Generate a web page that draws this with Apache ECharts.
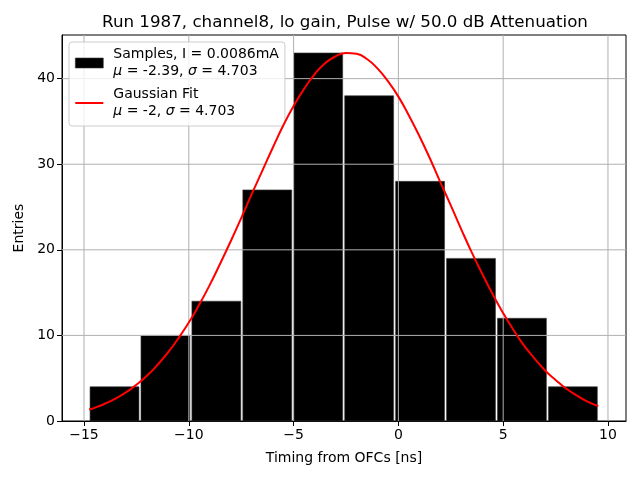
<!DOCTYPE html>
<html>
<head>
<meta charset="utf-8">
<script src="https://cdn.jsdelivr.net/npm/echarts@6/dist/echarts.min.js"></script>
<style>
  html, body { margin: 0; padding: 0; background: #fff; }
  #main { width: 640px; height: 480px; }
</style>
</head>
<body>
<div id="main"></div>
<script>
// histogram bins
var binEdges = [-14.76, -12.33, -9.90, -7.47, -5.04, -2.61, -0.18, 2.25, 4.68, 7.11, 9.54];
var counts = [4, 10, 14, 27, 43, 38, 28, 19, 12, 4];

// red fit curve
var fitX = [-14.76, -14.5, -14, -13.5, -13, -12.5, -12, -11.5, -11, -10.5, -10, -9.5, -9, -8.5, -8, -7.5, -7, -6.5, -6, -5.5, -5, -4.5, -4, -3.5, -3, -2.5, -2, -1.5, -1, -0.5, 0, 0.5, 1, 1.5, 2, 2.5, 3, 3.5, 4, 4.5, 5, 5.5, 6, 6.5, 7, 7.5, 8, 8.5, 9, 9.54];
var fitY = [1.34, 1.54, 2.02, 2.61, 3.34, 4.23, 5.28, 6.54, 7.98, 9.65, 11.5, 13.6, 15.9, 18.4, 21.0, 23.7, 26.5, 29.2, 31.9, 34.5, 36.8, 38.8, 40.5, 41.8, 42.6, 43.0, 42.9, 42.3, 41.2, 39.7, 37.9, 35.7, 33.3, 30.7, 27.9, 25.2, 22.4, 19.7, 17.2, 14.8, 12.6, 10.6, 8.8, 7.3, 5.9, 4.8, 3.8, 3.0, 2.3, 1.74];

var xTicks = [-15, -10, -5, 0, 5, 10];
var yTicks = [0, 10, 20, 30, 40];

var histData = [];
for (var i = 0; i < counts.length; i++) {
    histData.push([binEdges[i], binEdges[i + 1], counts[i]]);
}
var fitData = fitX.map(function (x, i) { return [x, fitY[i]]; });

// grid lines drawn over the bars, as matplotlib does here
var gridData = xTicks.map(function (v) { return [v, 0, 0]; })
    .concat(yTicks.slice(1).map(function (v) { return [0, v, 1]; }));

function minus(v) {
    return String(v).replace('-', '\u2212');
}

var font = 'DejaVu Sans';
var myChart = echarts.init(document.getElementById('main'));

option = {
    animation: false,
    backgroundColor: '#fff',
    title: {
        text: 'Run 1987, channel8, lo gain, Pulse w/ 50.0 dB Attenuation',
        left: 340,
        textAlign: 'center',
        top: 9,
        textStyle: {
            fontFamily: font,
            fontSize: 16.7,
            fontWeight: 'normal',
            color: '#000'
        }
    },
    legend: {
        orient: 'vertical',
        left: 69,
        top: 42,
        padding: [4, 6, 6, 6],
        itemGap: 6,
        itemWidth: 28,
        itemHeight: 10,
        backgroundColor: 'rgba(255,255,255,0.8)',
        borderColor: '#cccccc',
        borderWidth: 1,
        borderRadius: 3,
        data: [
            { name: 'Samples', icon: 'rect', itemStyle: { color: '#000', borderColor: '#3a3a3a', borderWidth: 0.6 } },
            { name: 'Gaussian Fit', icon: 'path://M0,4 L28,4 L28,6 L0,6 Z', itemStyle: { color: '#ff0000' } }
        ],
        formatter: function (name) {
            if (name === 'Samples') {
                return 'Samples, I = 0.0086mA\n{i|\u03bc} = -2.39, {i|\u03c3} = 4.703';
            }
            return 'Gaussian Fit\n{i|\u03bc} = -2, {i|\u03c3} = 4.703';
        },
        textStyle: {
            fontFamily: font,
            fontSize: 14,
            color: '#000',
            lineHeight: 17,
            padding: [0, 0, 0, 5],
            rich: {
                i: { fontFamily: font, fontSize: 14, fontStyle: 'italic', color: '#000', lineHeight: 17 }
            }
        }
    },
    grid: {
        left: 62,
        right: 14,
        top: 35,
        bottom: 59,
        show: true,
        borderColor: '#000',
        borderWidth: 1,
        containLabel: false
    },
    xAxis: {
        type: 'value',
        min: -16.05,
        max: 10.86,
        name: 'Timing from OFCs [ns]',
        nameLocation: 'middle',
        nameGap: 30,
        nameTextStyle: { fontFamily: font, fontSize: 14, color: '#000' },
        axisLine: { show: true, onZero: false, lineStyle: { color: '#000', width: 1 } },
        axisTick: { show: true, length: 5, lineStyle: { color: '#000' }, customValues: xTicks },
        axisLabel: {
            fontFamily: font, fontSize: 14, color: '#000', margin: 7,
            customValues: xTicks,
            formatter: minus
        },
        splitLine: { show: false }
    },
    yAxis: {
        type: 'value',
        min: 0,
        max: 45.1,
        interval: 10,
        name: 'Entries',
        nameLocation: 'middle',
        nameGap: 30,
        nameRotate: 90,
        nameTextStyle: { fontFamily: font, fontSize: 14, color: '#000' },
        axisLine: { show: true, onZero: false, lineStyle: { color: '#000', width: 1 } },
        axisTick: { show: true, length: 5, lineStyle: { color: '#000' }, customValues: yTicks },
        axisLabel: {
            fontFamily: font, fontSize: 14, color: '#000', margin: 7,
            customValues: yTicks
        },
        splitLine: { show: false }
    },
    series: [
        {
            name: 'Samples',
            type: 'custom',
            z: 2,
            itemStyle: { color: '#000' },
            encode: { x: [0, 1], y: 2 },
            data: histData,
            renderItem: function (params, api) {
                var p0 = api.coord([api.value(0), api.value(2)]);
                var p1 = api.coord([api.value(1), 0]);
                return {
                    type: 'rect',
                    shape: {
                        x: p0[0] + 1,
                        y: p0[1],
                        width: p1[0] - p0[0] - 2,
                        height: p1[1] - p0[1]
                    },
                    style: { fill: '#000', stroke: '#3a3a3a', lineWidth: 0.6 }
                };
            }
        },
        {
            name: 'grid',
            type: 'custom',
            z: 3,
            silent: true,
            clip: false,
            encode: { x: 0, y: 1 },
            data: gridData,
            renderItem: function (params, api) {
                var cs = params.coordSys;
                var p = api.coord([api.value(0), api.value(1)]);
                var shape = api.value(2) === 0
                    ? { x1: p[0], y1: cs.y, x2: p[0], y2: cs.y + cs.height }
                    : { x1: cs.x, y1: p[1], x2: cs.x + cs.width, y2: p[1] };
                return {
                    type: 'line',
                    shape: shape,
                    style: { stroke: '#b0b0b0', lineWidth: 1 }
                };
            }
        },
        {
            name: 'Gaussian Fit',
            type: 'line',
            z: 5,
            smooth: true,
            symbol: 'none',
            showSymbol: false,
            color: '#ff0000',
            lineStyle: { color: '#ff0000', width: 2 },
            data: fitData
        }
    ]
};

myChart.setOption(option);
window.addEventListener("resize", function () {
    myChart.resize();
});
</script>
</body>
</html>
